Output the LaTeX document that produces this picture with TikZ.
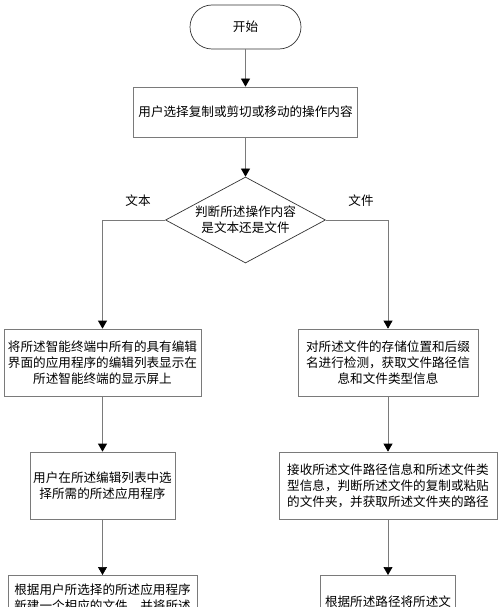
\documentclass[tikz,border=0pt]{standalone}
\usepackage{fontspec}
\setmainfont{Noto Sans CJK SC}
\usepackage{xcolor}
\usepackage{tikz}
\usetikzlibrary{arrows.meta,shapes.geometric}
\definecolor{linec}{HTML}{7A7A7A}
\tikzset{
  ar/.style={-{Triangle[length=8pt,width=9pt,color=black]},linec,line width=0.7pt},
  box/.style={draw=linec,line width=0.7pt,align=center,inner sep=0pt,font=\fontsize{12.6}{16}\selectfont},
  term/.style={box,draw=black!80,rounded corners=22pt,minimum width=111pt,minimum height=44pt},
  dec/.style={box,draw=black!80,diamond,aspect=1.86,minimum width=160pt,minimum height=86pt},
  lbl/.style={font=\fontsize{12.6}{16}\selectfont}
}
\begin{document}
\begin{tikzpicture}[x=1pt,y=-1pt]
\useasboundingbox (0,0) rectangle (500,607);
\clip (0,0) rectangle (500,607);
% main column
\node[term] (start) at (245.5,27) {开始};
\node[box,minimum width=224pt,minimum height=50pt] (sel) at (245.5,112) {用户选择复制或剪切或移动的操作内容};
\node[dec] (judge) at (245.5,220) {判断所述操作内容\\是文本还是文件};
\node[lbl] (txt) at (138,201) {文本};
\node[lbl] (fil) at (361,201) {文件};
% text branch
\node[box,minimum width=197pt,minimum height=67pt] (showlist) at (102.5,362.5) {将所述智能终端中所有的具有编辑\\界面的应用程序的编辑列表显示在\\所述智能终端的显示屏上};
\node[box,minimum width=145pt,minimum height=67pt] (pickapp) at (102.5,485.5) {用户在所述编辑列表中选\\择所需的所述应用程序};
\node[box,anchor=north,minimum width=189pt,inner ysep=8pt] (newfile) at (102.5,575) {根据用户所选择的所述应用程序\\新建一个相应的文件，并将所述};
% file branch
\node[box,minimum width=180pt,minimum height=67pt] (pathinfo) at (388,362.5) {对所述文件的存储位置和后缀\\名进行检测，获取文件路径信\\息和文件类型信息};
\node[box,minimum width=218pt,minimum height=67pt] (getfolder) at (388,485.5) {接收所述文件路径信息和所述文件类\\型信息，判断所述文件的复制或粘贴\\的文件夹，并获取所述文件夹的路径};
\node[box,anchor=north,minimum width=135pt,inner ysep=20pt] (copyto) at (388,575) {根据所述路径将所述文};
% connectors
\draw[ar] (start) -- (sel);
\draw[ar] (sel) -- (judge);
\draw[ar] (judge.west) -| (showlist.north);
\draw[ar] (judge.east) -| (pathinfo.north);
\draw[ar] (showlist) -- (pickapp);
\draw[ar] (pickapp) -- (newfile);
\draw[ar] (pathinfo) -- (getfolder);
\draw[ar] (getfolder) -- (copyto);
\end{tikzpicture}
\end{document}
